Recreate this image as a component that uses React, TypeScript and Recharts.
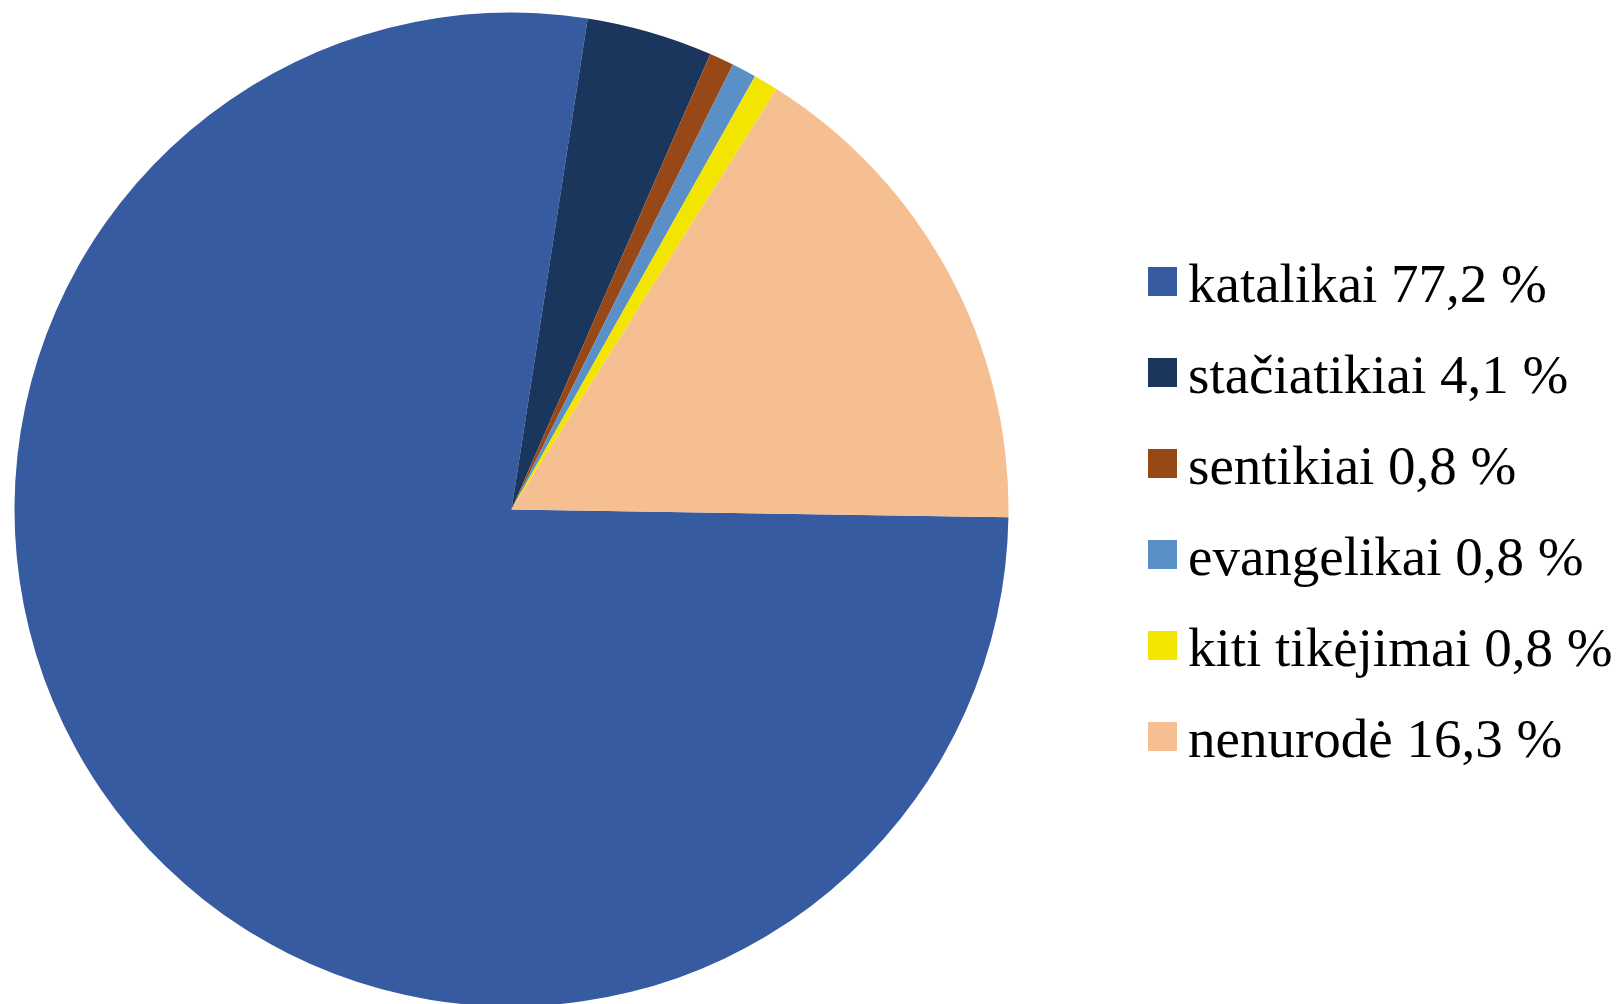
import React from 'react';
import { PieChart, Pie, Cell, Legend } from 'recharts';

const categories = ['katalikai', 'stačiatikiai', 'sentikiai', 'evangelikai', 'kiti tikėjimai', 'nenurodė'];
const values = [77.2, 4.1, 0.8, 0.8, 0.8, 16.3];
const valueLabels = ['77,2 %', '4,1 %', '0,8 %', '0,8 %', '0,8 %', '16,3 %'];
const colors = ['#365BA0', '#1B365D', '#974816', '#5B8FC7', '#F2E500', '#F5BF91'];

const data = categories.map((name, i) => ({ name, value: values[i], label: valueLabels[i], color: colors[i] }));

const ROW = 91;

const LegendContent = () => (
  <div style={{ position: 'relative', width: 470, height: ROW * data.length }}>
    {data.map((d, i) => (
      <div key={d.name} style={{ position: 'absolute', left: 0, top: i * ROW, height: ROW, width: 470 }}>
        <div style={{ position: 'absolute', left: 0, top: 13, width: 29, height: 29, background: d.color }} />
        <div
          style={{
            position: 'absolute',
            left: 40,
            top: 2,
            fontFamily: '"Liberation Serif", "Times New Roman", serif',
            fontSize: 55,
            lineHeight: '55px',
            color: '#000',
            whiteSpace: 'nowrap',
          }}
        >
          {d.name} {d.label}
        </div>
      </div>
    ))}
  </div>
);

export default function App() {
  return (
    <div style={{ position: 'absolute', left: 0, top: 0, width: 1623, height: 1004, background: '#fff' }}>
      <PieChart width={1623} height={1004} margin={{ top: 0, right: 0, bottom: 0, left: 0 }}>
        <Pie
          data={data}
          dataKey="value"
          nameKey="name"
          cx={511.5}
          cy={509.5}
          outerRadius={497}
          startAngle={-0.9}
          endAngle={-360.9}
          stroke="none"
          isAnimationActive={false}
        >
          {data.map((d) => (
            <Cell key={d.name} fill={d.color} />
          ))}
        </Pie>
        <Legend content={<LegendContent />} wrapperStyle={{ left: 1148, top: 254, width: 470 }} />
      </PieChart>
    </div>
  );
}
